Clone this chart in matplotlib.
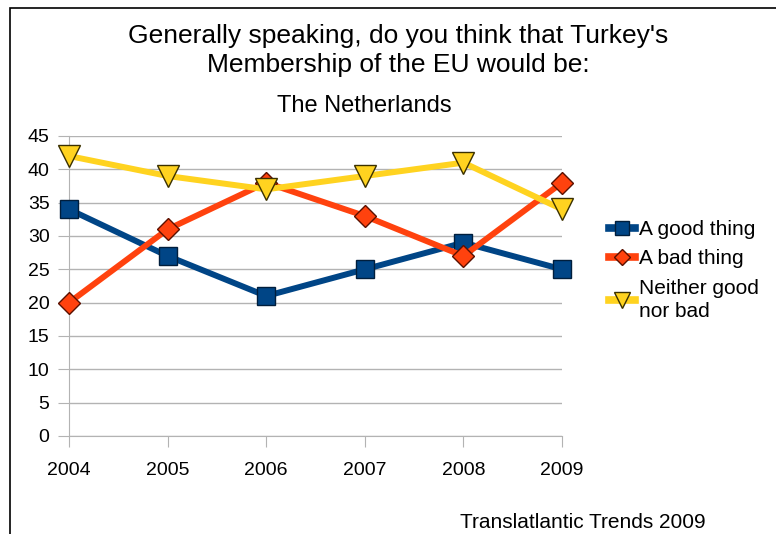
import matplotlib.pyplot as plt
from matplotlib.patches import Rectangle

# data
years = [2004, 2005, 2006, 2007, 2008, 2009]
good = [34, 27, 21, 25, 29, 25]
bad = [20, 31, 38, 33, 27, 38]
neither = [42, 39, 37, 39, 41, 34]

plt.rcParams['font.family'] = ['Liberation Sans', 'DejaVu Sans']

W, H = 776, 534
fig = plt.figure(figsize=(W / 100, H / 100), dpi=100)
ax = fig.add_axes([69 / W, 1 - 436 / H, (562 - 69) / W, (436 - 136) / H])

ax.plot(years, good, color='#004586', lw=4.3, marker='s', ms=13,
        mfc='#004586', mec='#001e3c', mew=1, label='A good thing', zorder=3, clip_on=False)
ax.plot(years, bad, color='#ff420e', lw=4.3, marker='D', ms=11,
        mfc='#ff420e', mec='#5a1000', mew=1, label='A bad thing', zorder=4, clip_on=False)
ax.plot(years, neither, color='#ffd320', lw=4.3, marker='v', ms=16,
        mfc='#ffd320', mec='#3a3000', mew=1, label='Neither good\nnor bad', zorder=5, clip_on=False)

ax.set_xlim(2004, 2009)
ax.set_ylim(0, 45)
ax.set_yticks(range(0, 46, 5))
ax.set_xticks(years)
ax.grid(axis='y', color='#b3b3b3', lw=1)
for s in ['top', 'right']:
    ax.spines[s].set_visible(False)
ax.spines['left'].set_color('#b3b3b3')
ax.spines['bottom'].set_color('#b3b3b3')
ax.tick_params(axis='y', length=8, color='#b3b3b3', labelsize=14, pad=6)
ax.tick_params(axis='x', length=8, color='#b3b3b3', labelsize=14, pad=11)
ax.set_axisbelow(True)

fig.text(398 / W, 1 - 36 / H, "Generally speaking, do you think that Turkey's",
         ha='center', va='center', fontsize=19)
fig.text(398 / W, 1 - 65 / H, "Membership of the EU would be:",
         ha='center', va='center', fontsize=19)
fig.text(364 / W, 1 - 106 / H, 'The Netherlands', ha='center', va='center', fontsize=17)
fig.text(583 / W, 1 - 522 / H, 'Translatlantic Trends 2009', ha='center', va='center', fontsize=15)

leg = fig.legend(loc='upper left', bbox_to_anchor=(609 / W, 1 - 220 / H), frameon=False,
                 fontsize=15, handlelength=1.25, handletextpad=0.2, labelspacing=0.5,
                 markerscale=0.75, borderaxespad=0, borderpad=0)
leg.get_texts()[2].set_linespacing(1.25)
for h in leg.legend_handles:
    h.set_linewidth(5.5)

fig.patches.append(Rectangle((10 / W, -0.1), 1.1, 1 - 8 / H + 0.1, transform=fig.transFigure,
                             fill=False, ec='black', lw=1.2))

fig.savefig('out.png', dpi=100)
